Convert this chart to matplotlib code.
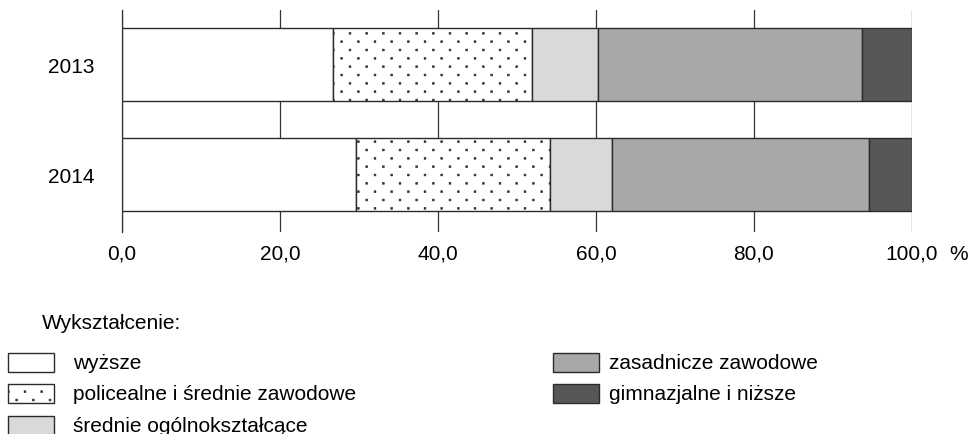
import numpy as np
import matplotlib
matplotlib.use("Agg")
import matplotlib.pyplot as plt
import matplotlib.hatch as mhatch
from matplotlib.path import Path
from matplotlib.patches import Rectangle

# ---------------- data ----------------
years = ["2013", "2014"]
categories = ["wyższe", "policealne i średnie zawodowe", "średnie ogólnokształcące",
              "zasadnicze zawodowe", "gimnazjalne i niższe"]
wyzsze = [26.7, 29.6]
policealne = [25.2, 24.6]
srednie_ogolne = [8.3, 7.8]
zasadnicze = [33.5, 32.5]
gimnazjalne = [6.3, 5.5]
xticks = [0, 20, 40, 60, 80, 100]
xtick_labels = ["0,0", "20,0", "40,0", "60,0", "80,0", "100,0"]

series = [wyzsze, policealne, srednie_ogolne, zasadnicze, gimnazjalne]
colors = ["#ffffff", "#ffffff", "#d9d9d9", "#a8a8a8", "#575757"]
hatches = [None, ".", None, None, None]


# ---- sparse staggered dot hatch (style only) ----
class StaggeredDots(mhatch.HatchPatternBase):
    def __init__(self, hatch, density):
        self.num_rows = hatch.count('.') * density * 2
        self.num_cols = self.num_rows // 2
        sq = Path.unit_rectangle()
        self.shape_vertices = sq.vertices
        self.shape_codes = sq.codes
        if self.num_rows == 0:
            self.num_shapes = 0
            self.num_vertices = 0
        else:
            self.num_shapes = ((self.num_rows // 2 + 1) * (self.num_cols + 1)
                               + (self.num_rows // 2) * self.num_cols)
            self.num_vertices = self.num_shapes * len(self.shape_vertices)

    def set_vertices_and_codes(self, vertices, codes):
        dy = 1.0 / self.num_rows
        dx = 1.0 / self.num_cols
        d = 0.018
        shape = (self.shape_vertices - 0.5) * d
        nv = len(shape)
        cur = 0
        for row in range(self.num_rows + 1):
            if row % 2 == 0:
                cols = np.linspace(0, 1, self.num_cols + 1)
            else:
                cols = np.linspace(dx / 2, 1 - dx / 2, self.num_cols)
            for c in cols:
                vertices[cur:cur + nv] = shape + (c, row * dy)
                codes[cur:cur + nv] = self.shape_codes
                cur += nv


mhatch._hatch_types[mhatch._hatch_types.index(mhatch.SmallFilledCircles)] = StaggeredDots

plt.rcParams['font.family'] = ['Liberation Sans', 'DejaVu Sans']
plt.rcParams['hatch.linewidth'] = 0.4
FS = 15

W, H = 969, 435
fig = plt.figure(figsize=(W / 100, H / 100), dpi=100)
ax = fig.add_axes([122 / W, 1 - 233 / H, 790 / W, 222 / H])

edge = "#2b2b2b"
ypos = np.arange(len(years))
left = np.zeros(len(years))
for vals, c, h, lab in zip(series, colors, hatches, categories):
    ax.barh(ypos, vals, left=left, height=0.664, color=c, edgecolor=edge,
            linewidth=1.0, hatch=h, label=lab, zorder=2)
    left = left + np.array(vals)

ax.set_xlim(0, 100)
ax.set_ylim(1.52, -0.498)
ax.set_xticks(xticks)
ax.set_xticklabels(xtick_labels, fontsize=FS)
ax.set_yticks(ypos)
ax.set_yticklabels(years, fontsize=FS)
ax.tick_params(axis='x', length=0, pad=8.5)
ax.tick_params(axis='y', length=0, pad=19.5)
for t in ax.get_yticklabels():
    t.set_verticalalignment("center_baseline")
ax.xaxis.grid(True, color="#333333", linewidth=0.9)
ax.set_axisbelow(True)
for s in ["top", "right", "bottom"]:
    ax.spines[s].set_visible(False)
ax.spines["left"].set_color("#333333")
ax.spines["left"].set_linewidth(0.9)

# percent sign after last tick label
ax.annotate("%", xy=(1, 0), xycoords="axes fraction", xytext=(26.6, -8.5),
            textcoords="offset points", ha="left", va="top", fontsize=FS)

# ---------------- legend ----------------
fig.text(42 / W, 1 - 329.5 / H, "Wykształcenie:", fontsize=FS, ha="left", va="baseline")
patch_x = [8, 553]
text_x = [72.7, 609.3]
row_y = [363, 394.5, 426]
for i, lab in enumerate(categories):
    col, row = i // 3, i % 3
    yc = row_y[row]
    r = Rectangle((patch_x[col] / W, 1 - (yc + 9.5) / H), 46 / W, 19 / H,
                  transform=fig.transFigure, facecolor=colors[i], edgecolor=edge,
                  linewidth=1.0, hatch=hatches[i])
    fig.add_artist(r)
    fig.text(text_x[col] / W, 1 - (yc + 6) / H, lab, fontsize=FS, ha="left", va="baseline")

fig.savefig("out.png", dpi=100)
